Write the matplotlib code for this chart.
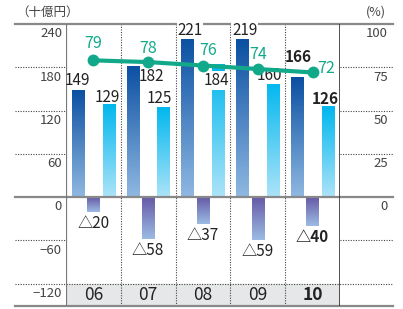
import numpy as np
import matplotlib
matplotlib.use("Agg")
import matplotlib.pyplot as plt
from matplotlib.colors import LinearSegmentedColormap

plt.rcParams['font.family'] = ['Noto Sans CJK JP', 'DejaVu Sans']

# data
years = ["06", "07", "08", "09", "10"]
sales = [149, 182, 221, 219, 166]        # dark blue bars
costs = [129, 125, 184, 160, 126]        # cyan bars
losses = [-20, -58, -37, -59, -40]       # purple bars (negative)
ratio = [79, 78, 76, 74, 72]             # % line, right axis

left_ticks = [240, 180, 120, 60, 0, -60, -120]
right_ticks = [100, 75, 50, 25, 0]

# label nudges in pixels (dx, dy) from bar top / point, label centred
sales_off = [(-1, 8.7), (19, -11), (2.5, 7.5), (2.5, 9), (1, 20)]
cost_off = [(-2, 7), (-4, 8.4), (-2, -16), (-3.5, 6.5), (-2.5, 7)]
ratio_off = [(0, 17), (0, 14), (5, 15), (0, 15), (14, 4)]

YMIN, YMAX = -151, 240
TEAL = "#12a98b"
GRID = "#444444"
DOT = (0, (1, 1.3))

fig = plt.figure(figsize=(4.03, 3.09), dpi=100)
ax = fig.add_axes([66/403, 3/309, 274/403, 282/309])
ax2 = ax.twinx()
x = np.arange(len(years))
w = 0.227
off = 0.282

def grad_bars(bars, top_col, bot_col):
    cmap = LinearSegmentedColormap.from_list("g", [bot_col, top_col])
    for b in bars:
        x0, y0 = b.get_x(), b.get_y()
        x1, y1 = x0 + b.get_width(), y0 + b.get_height()
        lo, hi = min(y0, y1), max(y0, y1)
        g = np.linspace(0, 1, 100).reshape(-1, 1)
        im = ax.imshow(g, extent=(x0, x1, lo, hi), origin="lower", cmap=cmap,
                       aspect="auto", zorder=2)
        im.set_clip_path(b)
        b.set_facecolor("none")

b1 = ax.bar(x - off, sales, w, zorder=2, linewidth=0)
b2 = ax.bar(x, losses, w, zorder=2, linewidth=0)
b3 = ax.bar(x + off, costs, w, zorder=2, linewidth=0)
grad_bars(b1, "#0b50a2", "#8fb8e1")
grad_bars(b2, "#665aa6", "#9bbbe3")
grad_bars(b3, "#00b7ee", "#abe3f8")

ax.set_xlim(-0.5, len(years) - 0.5)
ax.set_ylim(YMIN, YMAX)
ax2.set_ylim(YMIN / 2.4, YMAX / 2.4)
for a in (ax, ax2):
    a.set_xticks([])
    a.set_yticks([])
    for s in a.spines.values():
        s.set_visible(False)

yt = ax.get_yaxis_transform()
L, R = -51/274, 327/274

# gray band for year labels
ax.axhspan(YMIN, -120, color="#e6e7e8", zorder=0)

# horizontal rules
for v in [180, 120, 60, -60]:
    ax.plot([L, 0], [v, v], ls=DOT, color=GRID, lw=0.8, transform=yt, clip_on=False)
    ax.plot([1, R], [v, v], ls=DOT, color=GRID, lw=0.8, transform=yt, clip_on=False)
ax.plot([L, R], [-120, -120], ls=DOT, color=GRID, lw=0.8, transform=yt, clip_on=False)
for v in [0, YMAX, YMIN]:
    ax.plot([L, R], [v, v], color="#888888", lw=1.6, transform=yt, clip_on=False, zorder=3)

# vertical separators and axis lines
for i in range(1, len(years)):
    ax.axvline(i - 0.5, ls=DOT, color=GRID, lw=0.8, zorder=1)
ax.axvline(-0.5, color="#777777", lw=1.6, zorder=3)
ax.axvline(len(years) - 0.5, color="#333333", lw=1.2, zorder=3)

# tick labels
for v in left_ticks:
    s = str(v).replace("-", "\u2212")
    ax.text(-4/274, v - 13.5, s, transform=yt, ha="right", va="center",
            fontsize=9.5, color="#444444")
for v in right_ticks:
    ax.text(322/274, v * 2.4 - 13.5, str(v), transform=yt, ha="right", va="center",
            fontsize=9.5, color="#444444")
fig.text(16/403, 1 - 12/309, "（十億円）", ha="left", va="center", fontsize=9, color="#444444")
fig.text(386/403, 1 - 12/309, "(%)", ha="right", va="center", fontsize=9, color="#444444")

# year labels
for i, y in enumerate(years):
    ax.text(i, -135.5, y, ha="center", va="center", fontsize=12.5, color="#222222",
            fontweight="bold" if i == len(years) - 1 else "normal")

# bar labels
wb = dict(boxstyle="square,pad=0.05", fc="white", ec="none")
for i in range(len(years)):
    bold = "bold" if i == len(years) - 1 else "normal"
    ax.annotate(str(sales[i]), (x[i] - off, sales[i]), xytext=sales_off[i],
                textcoords="offset pixels", ha="center", va="center", fontsize=11,
                color="#222222", fontweight=bold, zorder=6,
                bbox=wb if i in (2, 3) else None)
    ax.annotate(str(costs[i]), (x[i] + off, costs[i]), xytext=cost_off[i],
                textcoords="offset pixels", ha="center", va="center",
                fontsize=11, color="#222222", fontweight=bold, zorder=6,
                bbox=wb if i in (2, 3) else None)
    ax.annotate("△" + str(-losses[i]), (x[i], losses[i]), xytext=(0, -11.5),
                textcoords="offset pixels", ha="center", va="center", fontsize=11,
                color="#222222", fontweight=bold, zorder=6)

# ratio line
ax2.plot(x, ratio, color=TEAL, lw=3, marker="o", ms=7.5, zorder=5)
for i, r in enumerate(ratio):
    dx, dy = ratio_off[i]
    ax2.annotate(str(r), (x[i], r), xytext=(dx, dy), textcoords="offset pixels",
                 ha="center", va="center", fontsize=11.5, color=TEAL, zorder=6)

fig.savefig("out.png", dpi=100)
